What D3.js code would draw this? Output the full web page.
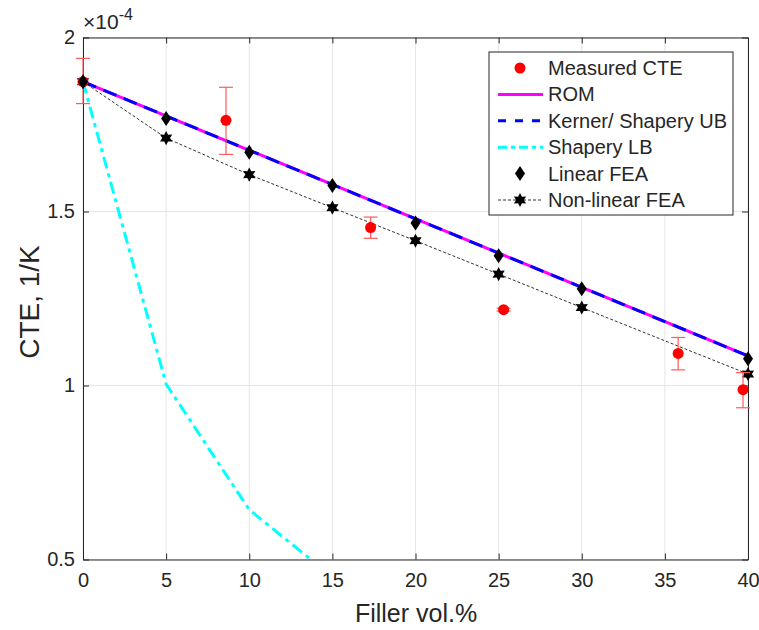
<!DOCTYPE html>
<html>
<head>
<meta charset="utf-8">
<title>CTE vs filler</title>
<script src="https://cdn.jsdelivr.net/npm/d3@7"></script>
<style>
    body { margin: 0; background: #fff; }
    text { font-family: "Liberation Sans", Arial, sans-serif; fill: #262626; }
</style>
</head>
<body>
<script>
    // values in units of 1e-4 1/K
    var fillerFEA = [0, 5, 10, 15, 20, 25, 30, 40];
    var linearFEA = [1.873, 1.767, 1.670, 1.575, 1.467, 1.373, 1.278, 1.077];
    var nonlinearFEA = [1.873, 1.711, 1.606, 1.511, 1.416, 1.320, 1.224, 1.033];

    var romX = [0, 40];
    var romY = [1.873, 1.085];
    var kernerY = [1.873, 1.085];

    var lbX = [0, 5, 10, 15];
    var lbY = [1.873, 1.004, 0.643, 0.45];

    var measX = [0, 8.6, 17.3, 25.3, 35.8, 39.7];
    var measY = [1.873, 1.762, 1.454, 1.218, 1.092, 0.988];
    var measLo = [1.81, 1.664, 1.423, 1.214, 1.045, 0.936];
    var measHi = [1.94, 1.857, 1.484, 1.222, 1.138, 1.037];

    var xTicks = [0, 5, 10, 15, 20, 25, 30, 35, 40];
    var yTicks = [0.5, 1, 1.5, 2];

    var width = 759, height = 630;
    var m = {left: 83, right: 11, top: 37.5, bottom: 70.5};
    var W = width - m.left - m.right, H = height - m.top - m.bottom;

    var svg = d3.select("body").append("svg")
        .attr("width", width).attr("height", height);

    var x = d3.scaleLinear().domain([0, 40]).range([0, W]);
    var y = d3.scaleLinear().domain([0.5, 2]).range([H, 0]);

    svg.append("defs").append("clipPath").attr("id", "clip")
        .append("rect").attr("width", W).attr("height", H);

    var g = svg.append("g").attr("transform", "translate(" + m.left + "," + m.top + ")");

    // grid
    g.append("g").selectAll("line").data(xTicks).enter().append("line")
        .attr("x1", x).attr("x2", x).attr("y1", 0).attr("y2", H)
        .attr("stroke", "#e6e6e6").attr("stroke-width", 1);
    g.append("g").selectAll("line").data(yTicks).enter().append("line")
        .attr("y1", y).attr("y2", y).attr("x1", 0).attr("x2", W)
        .attr("stroke", "#e6e6e6").attr("stroke-width", 1);

    // axes (matlab style, inward ticks, box)
    var axB = g.append("g").attr("transform", "translate(0," + H + ")")
        .call(d3.axisBottom(x).tickValues(xTicks).tickSizeInner(-6).tickSizeOuter(0).tickPadding(13));
    var axL = g.append("g")
        .call(d3.axisLeft(y).tickValues(yTicks).tickFormat(d3.format("")).tickSizeInner(-6).tickSizeOuter(0).tickPadding(8));
    var axT = g.append("g")
        .call(d3.axisTop(x).tickValues(xTicks).tickSizeInner(-6).tickSizeOuter(0).tickFormat(""));
    var axR = g.append("g").attr("transform", "translate(" + W + ",0)")
        .call(d3.axisRight(y).tickValues(yTicks).tickSizeInner(-6).tickSizeOuter(0).tickFormat(""));
    [axB, axL, axT, axR].forEach(function(a) {
        a.selectAll("path, line").attr("stroke", "#262626");
        a.selectAll("text").attr("font-size", 20).attr("fill", "#262626")
            .style("font-family", "Liberation Sans, Arial, sans-serif");
    });

    var plot = g.append("g").attr("clip-path", "url(#clip)");

    var line = d3.line().x(function(d) { return x(d[0]); }).y(function(d) { return y(d[1]); });

    // Shapery LB
    plot.append("path").datum(d3.zip(lbX, lbY)).attr("d", line)
        .attr("fill", "none").attr("stroke", "#00ffff").attr("stroke-width", 3)
        .attr("stroke-dasharray", "12,5,4,5");
    // ROM
    plot.append("path").datum(d3.zip(romX, romY)).attr("d", line)
        .attr("fill", "none").attr("stroke", "#ff00ff").attr("stroke-width", 3);
    // Kerner / Shapery UB
    plot.append("path").datum(d3.zip(romX, kernerY)).attr("d", line)
        .attr("fill", "none").attr("stroke", "#0000ff").attr("stroke-width", 3)
        .attr("stroke-dasharray", "14,8");
    // Non-linear FEA line
    plot.append("path").datum(d3.zip(fillerFEA, nonlinearFEA)).attr("d", line)
        .attr("fill", "none").attr("stroke", "#333").attr("stroke-width", 1)
        .attr("stroke-dasharray", "3,2");

    // hexagram marker
    var hexagram = {
        draw: function(ctx, size) {
            var r = Math.sqrt(size / 1.2), ri = r * 0.55;
            for (var i = 0; i < 12; i++) {
                var a = -Math.PI / 2 + i * Math.PI / 6;
                var rr = i % 2 ? ri : r;
                if (i === 0) ctx.moveTo(rr * Math.cos(a), rr * Math.sin(a));
                else ctx.lineTo(rr * Math.cos(a), rr * Math.sin(a));
            }
            ctx.closePath();
        }
    };
    var diamond = {
        draw: function(ctx, size) {
            var w = 5, h = 7.5;
            ctx.moveTo(0, -h); ctx.lineTo(w, 0); ctx.lineTo(0, h); ctx.lineTo(-w, 0); ctx.closePath();
        }
    };

    var mk = svg.append("g").attr("transform", "translate(" + m.left + "," + m.top + ")");

    mk.selectAll(".star").data(d3.zip(fillerFEA, nonlinearFEA)).enter().append("path")
        .attr("transform", function(d) { return "translate(" + x(d[0]) + "," + y(d[1]) + ")"; })
        .attr("d", d3.symbol().type(hexagram).size(60)).attr("fill", "#000");

    // error bars
    var eb = mk.append("g").attr("stroke", "#ff5a5a").attr("stroke-width", 1.2);
    measX.forEach(function(v, i) {
        eb.append("line").attr("x1", x(v)).attr("x2", x(v)).attr("y1", y(measLo[i])).attr("y2", y(measHi[i]));
        eb.append("line").attr("x1", x(v) - 7).attr("x2", x(v) + 7).attr("y1", y(measLo[i])).attr("y2", y(measLo[i]));
        eb.append("line").attr("x1", x(v) - 7).attr("x2", x(v) + 7).attr("y1", y(measHi[i])).attr("y2", y(measHi[i]));
    });
    mk.selectAll(".meas").data(d3.zip(measX, measY)).enter().append("circle")
        .attr("cx", function(d) { return x(d[0]); }).attr("cy", function(d) { return y(d[1]); })
        .attr("r", 5.5).attr("fill", "#ff0000");

    mk.selectAll(".dia").data(d3.zip(fillerFEA, linearFEA)).enter().append("path")
        .attr("transform", function(d) { return "translate(" + x(d[0]) + "," + y(d[1]) + ")"; })
        .attr("d", d3.symbol().type(diamond)).attr("fill", "#000");

    // labels
    svg.append("text").attr("x", 416).attr("y", 622).attr("text-anchor", "middle")
        .attr("font-size", 25).text("Filler vol.%");
    svg.append("text").attr("transform", "translate(39," + 302 + ") rotate(-90)")
        .attr("text-anchor", "middle").attr("font-size", 28).text("CTE, 1/K");
    var ex = svg.append("text").attr("x", 83).attr("y", 29).attr("font-size", 21);
    ex.append("tspan").text("\u00d710");
    ex.append("tspan").attr("dy", -9).attr("font-size", 16).text("-4");

    // legend
    var lg = svg.append("g").attr("transform", "translate(489,52)");
    lg.append("rect").attr("width", 244).attr("height", 163).attr("fill", "#fff")
        .attr("stroke", "#262626").attr("stroke-width", 1);
    var names = ["Measured CTE", "ROM", "Kerner/ Shapery UB", "Shapery LB", "Linear FEA", "Non-linear FEA"];
    names.forEach(function(n, i) {
        var yy = 16 + i * 26.4;
        var row = lg.append("g").attr("transform", "translate(0," + yy + ")");
        if (i === 0) row.append("circle").attr("cx", 31).attr("r", 5.5).attr("fill", "#ff0000");
        if (i === 1) row.append("line").attr("x1", 9).attr("x2", 54).attr("stroke", "#ff00ff").attr("stroke-width", 3);
        if (i === 2) row.append("line").attr("x1", 9).attr("x2", 54).attr("stroke", "#0000ff").attr("stroke-width", 3).attr("stroke-dasharray", "8,9");
        if (i === 3) row.append("line").attr("x1", 9).attr("x2", 54).attr("stroke", "#00ffff").attr("stroke-width", 3).attr("stroke-dasharray", "9,4,4,4");
        if (i === 4) row.append("path").attr("transform", "translate(31,0)").attr("d", d3.symbol().type(diamond)).attr("fill", "#000");
        if (i === 5) {
            row.append("line").attr("x1", 9).attr("x2", 54).attr("stroke", "#333").attr("stroke-dasharray", "3,2");
            row.append("path").attr("transform", "translate(31,0)").attr("d", d3.symbol().type(hexagram).size(60)).attr("fill", "#000");
        }
        row.append("text").attr("x", 59).attr("y", 7).attr("font-size", 20).text(n);
    });
</script>
</body>
</html>
